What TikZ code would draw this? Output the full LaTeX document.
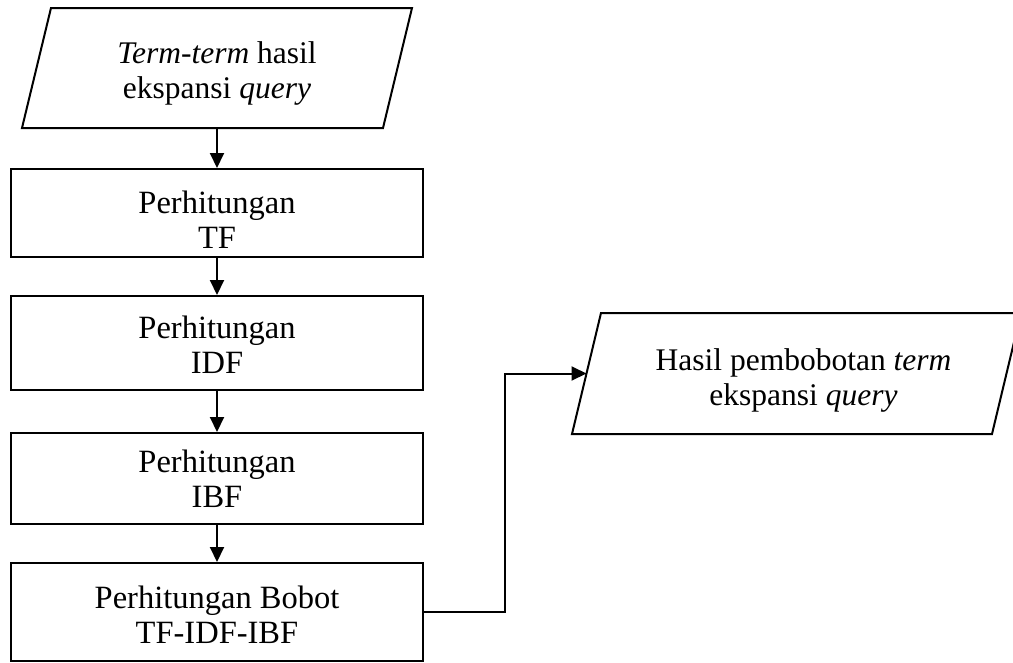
\documentclass[tikz,border=0pt]{standalone}
\usepackage{fontspec}
\setmainfont{Liberation Serif}
\usetikzlibrary{arrows.meta,calc}
\begin{document}
\begin{tikzpicture}[x=1pt,y=-1pt,
  font=\fontsize{32.5}{35}\selectfont,
  base/.style={line width=2pt, align=center, inner sep=0pt, text depth=0pt},
  procbox/.style={base, draw=black, rectangle, minimum width=412pt},
  iotext/.style={base, rectangle, font=\fontsize{31.5}{34.5}\selectfont},
  ioframe/.style={draw=black, line width=2pt, line join=miter},
  arr/.style={line width=2pt, -{Triangle[length=15pt,width=14pt]}}
]
\useasboundingbox (0,0) rectangle (1013,662);
\clip (0,0) rectangle (1013,662);
% input parallelogram
\node[iotext, minimum width=359pt, minimum height=118pt, text height=60pt] (p1) at (217,68) {\textit{Term-term} hasil\\ekspansi \textit{query}};
\draw[ioframe] ($(p1.south west)+(-14.5,0)$) -- ($(p1.north west)+(14.5,0)$) -- ($(p1.north east)+(14.5,0)$) -- ($(p1.south east)+(-14.5,0)$) -- cycle;
% process boxes
\node[procbox, minimum height=88pt, text height=70pt] (b1) at (217,213) {Perhitungan\\TF};
\node[procbox, minimum height=94pt, text height=60pt] (b2) at (217,343) {Perhitungan\\IDF};
\node[procbox, minimum height=91pt, text height=57pt] (b3) at (217,478.5) {Perhitungan\\IBF};
\node[procbox, minimum height=98pt, text height=62pt] (b4) at (217,612) {Perhitungan Bobot\\TF-IDF-IBF};
% output parallelogram
\node[iotext, minimum width=418pt, minimum height=119pt, text height=63pt] (p2) at (803.5,373.5) {Hasil pembobotan \textit{term}\\ekspansi \textit{query}};
\draw[ioframe] ($(p2.south west)+(-21.5,0)$) -- ($(p2.north west)+(7.5,0)$) -- ($(p2.north east)+(7.5,0)$) -- ($(p2.south east)+(-21.5,0)$) -- cycle;
\coordinate (p2in) at ($(p2.west)+(-7,0)$);
\coordinate (bend) at (505,0);
% connectors
\draw[arr] (p1.center |- p1.south) -- (b1.north);
\draw[arr] (b1.south) -- (b2.north);
\draw[arr] (b2.south) -- (b3.north);
\draw[arr] (b3.south) -- (b4.north);
\draw[arr] (b4.east) -| (bend |- p2in) -- (p2in);
\end{tikzpicture}
\end{document}
